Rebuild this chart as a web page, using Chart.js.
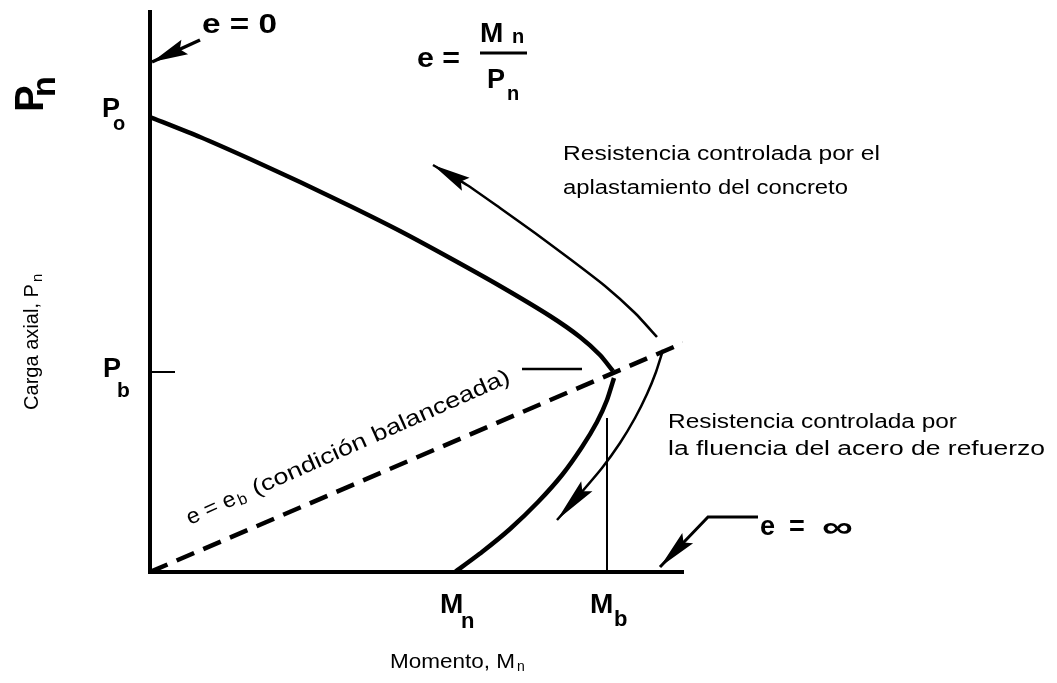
<!DOCTYPE html>
<html lang="es">
<head>
<meta charset="UTF-8">
<title>Diagrama de interacción</title>
<style>
  html, body { margin: 0; padding: 0; background: #fff; }
  canvas { display: block; }
</style>
<script src="https://cdn.jsdelivr.net/npm/chart.js"></script>
</head>
<body>
<canvas id="interaccion" width="1057" height="683"></canvas>
<script>
const Po = 455, Pb = 200, Mb = 457, Mn = 305;

const ramaCompresionM = [0, 50, 100, 150, 200, 250, 300, 350, 400, 430, 450, 463];
const ramaCompresionP = [Po, 435, 413, 390, 366, 341, 314, 286, 256, 235, 217, 201];

const ramaTraccionM = [464, 457, 447, 432, 412, 388, 360, 332, Mn];
const ramaTraccionP = [194, 172, 150, 125, 97, 70, 43, 20, 0];

const balanceadaM = [0, 533];
const balanceadaP = [0, 229];

const flechaAplastamientoM = [507, 485, 455, 420, 385, 350, 317, 283];
const flechaAplastamientoP = [235, 259, 286, 313, 339, 364, 387, 407];

const flechaFluenciaM = [513, 506, 497, 485, 470, 452, 430, 407];
const flechaFluenciaP = [222, 200, 178, 154, 129, 104, 78, 52];

const flechaE0M = [50, 2];
const flechaE0P = [532, 510];

const flechaEinfM = [608, 558, 510];
const flechaEinfP = [55, 55, 5];

const marcaPbM = [0, 25];
const marcaPbP = [Pb, Pb];
const nivelPbM = [372, 432];
const nivelPbP = [203, 203];
const lineaMbM = [Mb, Mb];
const lineaMbP = [154, 0];

function serie(M, P) {
  return M.map((m, i) => ({ x: m, y: P[i] }));
}

// textos: ancla en unidades del gráfico, partes desplazadas en píxeles
const textos = [
  { m: 52, p: 539, partes: [{ t: 'e = 0', s: 28, b: true, w: 75 }] },
  { m: -107, p: 460, rot: -90, partes: [
      { t: 'P', s: 40, b: true },
      { t: 'n', s: 34, b: true, dx: 15, dy: 12 }] },
  { m: -112, p: 162, rot: -90, partes: [
      { t: 'Carga axial, P', s: 20, w: 126 },
      { t: 'n', s: 15, dx: 128, dy: 4 }] },
  { m: -48, p: 455, partes: [
      { t: 'P', s: 27, b: true },
      { t: 'o', s: 20, b: true, dx: 11, dy: 13 }] },
  { m: -47, p: 195, partes: [
      { t: 'P', s: 27, b: true },
      { t: 'b', s: 21, b: true, dx: 14, dy: 20 }] },
  { m: 267, p: 505, partes: [
      { t: 'e =', s: 27, b: true, w: 43 },
      { t: 'M', s: 28, b: true, dx: 63, dy: -25 },
      { t: 'n', s: 20, b: true, dx: 95, dy: -24 },
      { linea: [63, -14, 110, -14] },
      { t: 'P', s: 27, b: true, dx: 70, dy: 21 },
      { t: 'n', s: 20, b: true, dx: 90, dy: 33 }] },
  { m: 413, p: 412, partes: [
      { t: 'Resistencia controlada por el', s: 20, w: 317 },
      { t: 'aplastamiento del concreto', s: 20, w: 285, dy: 34 }] },
  { m: 518, p: 144, partes: [
      { t: 'Resistencia controlada por', s: 20, w: 289 },
      { t: 'la fluencia del acero de refuerzo', s: 20, w: 377, dy: 27 }] },
  { m: 610, p: 37, partes: [
      { t: 'e', s: 27, b: true },
      { t: '=', s: 27, b: true, dx: 29 },
      { t: '\u221e', s: 30, b: true, dx: 62, dy: 2, w: 31 }] },
  { m: 290, p: -41, partes: [
      { t: 'M', s: 28, b: true },
      { t: 'n', s: 22, b: true, dx: 21, dy: 15 }] },
  { m: 440, p: -41, partes: [
      { t: 'M', s: 28, b: true },
      { t: 'b', s: 22, b: true, dx: 24, dy: 13 }] },
  { m: 240, p: -96, partes: [
      { t: 'Momento, M', s: 20, w: 125 },
      { t: 'n', s: 14, dx: 127, dy: 3 }] },
  { m: 40, p: 47, rot: -24, partes: [
      { t: 'e = e', s: 22, w: 52 },
      { t: 'b', s: 16, dx: 54, dy: 3 },
      { t: '(condición balanceada)', s: 22, w: 280, dx: 72 }] }
];

const fuente = (s, b) => (b ? 'bold ' : '') + s + 'px "Liberation Sans", Arial, sans-serif';

const textosPlugin = {
  id: 'textos',
  afterDraw(chart) {
    const ctx = chart.ctx, xs = chart.scales.x, ys = chart.scales.y;
    ctx.save();
    ctx.fillStyle = '#000';
    ctx.strokeStyle = '#000';
    ctx.textBaseline = 'alphabetic';
    textos.forEach(item => {
      ctx.save();
      ctx.translate(xs.getPixelForValue(item.m), ys.getPixelForValue(item.p));
      if (item.rot) ctx.rotate(item.rot * Math.PI / 180);
      item.partes.forEach(pt => {
        if (pt.linea) {
          ctx.lineWidth = 3;
          ctx.beginPath();
          ctx.moveTo(pt.linea[0], pt.linea[1]);
          ctx.lineTo(pt.linea[2], pt.linea[3]);
          ctx.stroke();
          return;
        }
        ctx.save();
        ctx.font = fuente(pt.s, pt.b);
        ctx.translate(pt.dx || 0, pt.dy || 0);
        if (pt.w) ctx.scale(pt.w / ctx.measureText(pt.t).width, 1);
        ctx.fillText(pt.t, 0, 0);
        ctx.restore();
      });
      ctx.restore();
    });
    ctx.restore();
  }
};

// puntas de flecha al final de las series marcadas
const flechasPlugin = {
  id: 'flechas',
  afterDatasetsDraw(chart) {
    const ctx = chart.ctx;
    chart.data.datasets.forEach((ds, i) => {
      if (!ds.punta) return;
      const pts = chart.getDatasetMeta(i).data;
      const a = pts[pts.length - 2], b = pts[pts.length - 1];
      const ang = Math.atan2(b.y - a.y, b.x - a.x);
      const L = ds.punta[0], W = ds.punta[1] / 2;
      ctx.save();
      ctx.translate(b.x, b.y);
      ctx.rotate(ang);
      ctx.fillStyle = '#000';
      ctx.beginPath();
      ctx.moveTo(0, 0);
      ctx.lineTo(-L, -W);
      ctx.lineTo(-L * 0.85, 0);
      ctx.lineTo(-L, W);
      ctx.closePath();
      ctx.fill();
      ctx.restore();
    });
  }
};

const ejes = {
  type: 'linear',
  grid: { display: false },
  ticks: { display: false },
  border: { display: true, color: '#000', width: 4 }
};

new Chart(document.getElementById('interaccion'), {
  type: 'line',
  data: {
    datasets: [
      { data: serie(ramaCompresionM, ramaCompresionP), borderWidth: 4.5, tension: 0.2 },
      { data: serie(ramaTraccionM, ramaTraccionP), borderWidth: 4.5, tension: 0.2 },
      { data: serie(balanceadaM, balanceadaP), borderWidth: 4.5, borderDash: [19, 10] },
      { data: serie(flechaAplastamientoM, flechaAplastamientoP), borderWidth: 2.5, tension: 0.2, punta: [38, 15] },
      { data: serie(flechaFluenciaM, flechaFluenciaP), borderWidth: 2.5, tension: 0.2, punta: [45, 15] },
      { data: serie(flechaE0M, flechaE0P), borderWidth: 3.5, punta: [36, 16] },
      { data: serie(flechaEinfM, flechaEinfP), borderWidth: 3, punta: [40, 15], clip: false },
      { data: serie(marcaPbM, marcaPbP), borderWidth: 2 },
      { data: serie(nivelPbM, nivelPbP), borderWidth: 2.5 },
      { data: serie(lineaMbM, lineaMbP), borderWidth: 2 }
    ]
  },
  options: {
    responsive: false,
    animation: false,
    layout: { padding: { left: 142, right: 374, top: 12, bottom: 103 } },
    elements: {
      point: { radius: 0 },
      line: { borderColor: '#000', fill: false, borderCapStyle: 'butt' }
    },
    plugins: { legend: { display: false }, tooltip: { enabled: false } },
    scales: {
      x: { ...ejes, min: 0, max: 533 },
      y: { ...ejes, min: 0, max: 560 }
    }
  },
  plugins: [flechasPlugin, textosPlugin]
});
</script>
</body>
</html>
